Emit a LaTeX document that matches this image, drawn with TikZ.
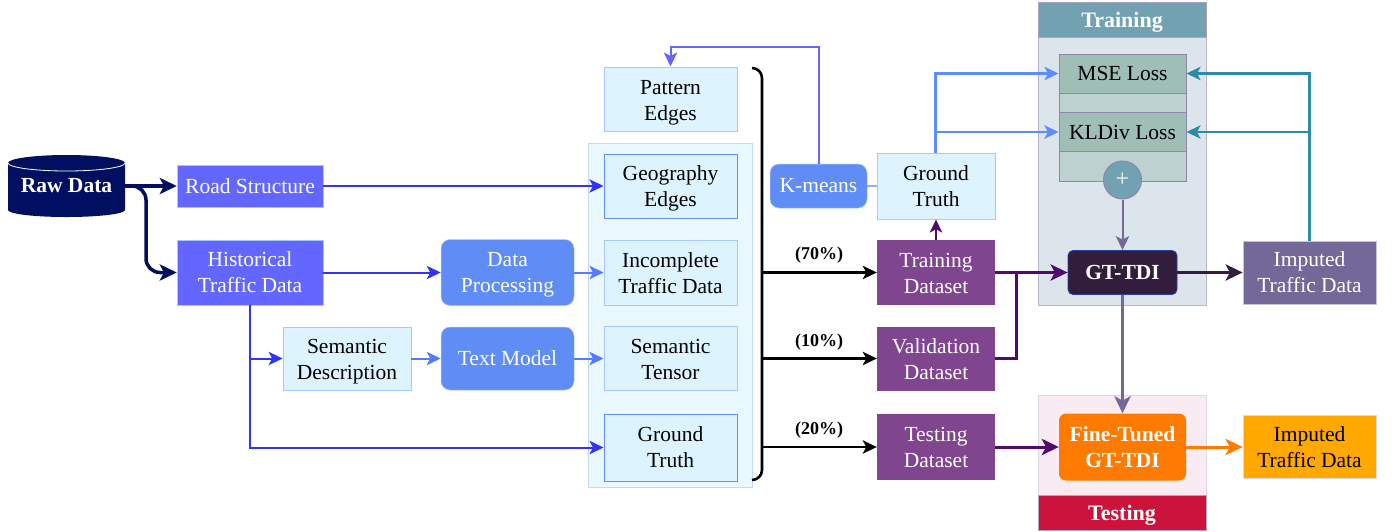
\documentclass[tikz,border=0pt]{standalone}
\usepackage{fontspec}
\setmainfont{Liberation Serif}
\usetikzlibrary{arrows.meta}
\definecolor{navy}{HTML}{000F5F}
\definecolor{roadblue}{HTML}{6366FF}
\definecolor{lineblue}{HTML}{3333F5}
\definecolor{softblue}{HTML}{5F8CF5}
\definecolor{brightsoft}{HTML}{5C8CFF}
\definecolor{paleblue}{HTML}{DDF4FF}
\definecolor{paneblue}{HTML}{EAF8FF}
\definecolor{edgeblue}{HTML}{A6C8FF}
\definecolor{plum}{HTML}{7F458F}
\definecolor{deeppurple}{HTML}{4F0A6E}
\definecolor{teal1}{HTML}{72A1B2}
\definecolor{teal2}{HTML}{2E8CA2}
\definecolor{greypane}{HTML}{DDE5EC}
\definecolor{lossback}{HTML}{BDD2D0}
\definecolor{lossfill}{HTML}{9FBFB6}
\definecolor{slate}{HTML}{736897}
\definecolor{darkplum}{HTML}{321E3C}
\definecolor{pinkpane}{HTML}{F8ECF2}
\definecolor{crimson1}{HTML}{CB133B}
\definecolor{orange1}{HTML}{FF7A00}
\definecolor{amber}{HTML}{FFA800}
\newcommand{\bodyfont}{\fontsize{21.5}{26}\selectfont}
\newcommand{\dn}[1]{\rule{0pt}{\dimexpr 14.8pt+#1pt*2\relax}}
\tikzset{
 px/.style={x=1pt,y=-1pt},
 multi/.style={inner sep=0pt,align=center,font=\bodyfont},
 road/.style={multi,fill=roadblue,draw=edgeblue,line width=.5pt,text=white},
 soft/.style={multi,fill=softblue,draw=edgeblue,line width=.5pt,text=white,rounded corners=9pt},
 pale/.style={multi,fill=paleblue,draw=edgeblue,line width=1pt,text=black},
 palestrong/.style={multi,fill=paleblue,draw=softblue,line width=1pt,text=black},
 dataset/.style={multi,fill=plum,text=white,minimum width=118pt},
 pane/.style={inner sep=0pt},
 head/.style={multi,font=\fontsize{22}{26}\selectfont\bfseries,text=white,minimum width=168pt,minimum height=35pt},
 loss/.style={multi,fill=lossfill,draw=slate!80,line width=1pt,text=black,minimum width=127pt,minimum height=39pt},
 pct/.style={inner sep=0pt,font=\fontsize{18}{20}\selectfont\bfseries},
 tip/.style={-{Stealth[length=#1,width=#1*0.95,inset=#1*0.25]}},
 blueline/.style={draw=lineblue,line width=2pt,tip=14pt},
 softline/.style={draw=brightsoft!80!lineblue,line width=2pt,tip=14pt},
 lightline/.style={draw=brightsoft,line width=2.2pt,tip=14pt},
 blackline/.style={draw=black,line width=2.2pt,tip=14pt},
 purpleline/.style={draw=deeppurple,line width=3pt,tip=17pt},
 tealline/.style={draw=teal2,line width=2.5pt,tip=14pt},
}
\begin{document}
\begin{tikzpicture}[px]
\useasboundingbox (0,0) rectangle (1392,531);
% panels
\node[pane,fill=paneblue,draw=edgeblue!70,line width=1pt,minimum width=164pt,minimum height=344pt] (leftpane) at (670,315) {};
\node[pane,fill=greypane,draw=slate!50,line width=1pt,minimum width=168pt,minimum height=303pt] (trainpane) at (1122,153.5) {};
\node[head,fill=teal1,draw=slate!60,line width=.7pt] (trainhead) at (1122,19.5) {\dn{3}Training};
\node[pane,fill=pinkpane,draw=slate!25,line width=1pt,minimum width=168pt,minimum height=135pt] (testpane) at (1122,462.5) {};
\node[head,fill=crimson1,draw=slate!60,line width=.7pt] (testhead) at (1122,512.5) {\dn{3}Testing};
\node[pane,fill=lossback,draw=slate!80,line width=1pt,minimum width=127pt,minimum height=127pt] (lossback) at (1122.5,117.5) {};
% raw data cylinder
\fill[navy] (8,163) .. controls (8,158.6) and (34.2,155) .. (66.5,155) .. controls (98.8,155) and (125,158.6) .. (125,163) -- (125,210) .. controls (125,213.9) and (98.8,217) .. (66.5,217) .. controls (34.2,217) and (8,213.9) .. (8,210) -- cycle;
\draw[white,line width=.8pt] (8,163) .. controls (8,167.4) and (34.2,171) .. (66.5,171) .. controls (98.8,171) and (125,167.4) .. (125,163);
\node[inner sep=0pt,minimum width=117pt,minimum height=40pt,text=white,font=\bodyfont\bfseries] (raw) at (66.5,186) {Raw Data};
% left column
\node[road,minimum width=146pt,minimum height=42pt] (roadn) at (250,186) {Road Structure};
\node[road,minimum width=146pt,minimum height=65pt] (hist) at (250,272.5) {Historical\\Traffic Data};
\node[soft,minimum width=133pt,minimum height=66pt] (proc) at (507.5,272.5) {\dn{1.5}Data\\Processing};
\node[pale,line width=.7pt,minimum width=128pt,minimum height=63pt] (sem) at (347,358.5) {\dn{3}Semantic\\Description};
\node[soft,minimum width=133pt,minimum height=63pt] (textm) at (507.5,358.5) {Text Model};
% middle column
\node[pale,minimum width=133pt,minimum height=64pt] (pattern) at (670.5,99) {\dn{3}Pattern\\Edges};
\node[palestrong,minimum width=133pt,minimum height=64pt] (geo) at (670.5,186) {\dn{2}Geography\\Edges};
\node[pale,minimum width=133pt,minimum height=65pt] (incomp) at (670.5,272.5) {\dn{1}Incomplete\\Traffic Data};
\node[pale,minimum width=133pt,minimum height=64pt] (tensor) at (670.5,358.5) {\dn{1}Semantic\\Tensor};
\node[palestrong,minimum width=133pt,minimum height=67pt] (gt) at (670.5,447.5) {Ground\\Truth};
% right middle
\node[soft,minimum width=97pt,minimum height=44pt] (kmeans) at (818.5,186) {K-means};
\node[pale,minimum width=118pt,minimum height=66pt] (gt2) at (936,186) {Ground\\Truth};
\node[dataset,minimum height=65pt] (train) at (936,272.5) {\dn{1}Training\\Dataset};
\node[dataset,minimum height=64pt] (valid) at (936,358.5) {\dn{1}Validation\\Dataset};
\node[dataset,minimum height=66pt] (test) at (936,447) {Testing\\Dataset};
% training block
\node[loss] (mse) at (1122.5,73.5) {MSE Loss};
\node[loss] (kl) at (1122.5,132) {KLDiv Loss};
\node[circle,fill=teal1,draw=slate!80,line width=1pt,minimum size=38pt,inner sep=0pt,text=white,font=\fontsize{24}{24}\selectfont] (plus) at (1122.5,180) {+};
\node[multi,fill=darkplum,draw=softblue!40!navy,line width=.8pt,rounded corners=5pt,text=white,font=\bodyfont\bfseries,minimum width=109pt,minimum height=44pt] (gttdi) at (1122.5,272.5) {GT-TDI};
\node[multi,fill=slate,draw=slate!40,line width=.7pt,text=white,minimum width=133pt,minimum height=63pt] (imp1) at (1309.5,272.5) {Imputed\\Traffic Data};
% testing block
\node[multi,fill=orange1,rounded corners=7pt,text=white,font=\bodyfont\bfseries,minimum width=127pt,minimum height=67pt] (fine) at (1122.5,447) {Fine-Tuned\\GT-TDI};
\node[multi,fill=amber,draw=slate!25,line width=.7pt,text=black,minimum width=133pt,minimum height=63pt] (imp2) at (1309.5,447) {Imputed\\Traffic Data};
% named junctions
\coordinate (rawbend) at (146,186);
\coordinate (bracetop) at (752,68);
\coordinate (bracebot) at (752,480);
\coordinate (brace70) at (762,272.5);
\coordinate (brace10) at (762,358.5);
\coordinate (brace20) at (762,447);
\coordinate (kup) at (818.5,47);
\coordinate (mergepur) at (1016,272.5);
\coordinate (gtup) at (935.5,132);
% raw connectors
\draw[draw=navy,line width=4pt,tip=17pt] (raw.east) -- (roadn.west);
\draw[draw=navy,line width=3.5pt,tip=17pt,rounded corners=14pt] (raw.east) -- (rawbend) |- (hist.west);
% blue connectors
\draw[blueline] (roadn.east) -- (geo.west);
\draw[blueline] (hist.east) -- (proc.west);
\draw[softline] (proc.east) -- (incomp.west);
\draw[blueline] (hist.south) |- (sem.west);
\draw[blueline] (hist.south) |- (gt.west);
\draw[softline] (sem.east) -- (textm.west);
\draw[softline] (textm.east) -- (tensor.west);
\draw[draw=roadblue,line width=2pt,tip=14pt] (kmeans.north) |- (kup) -| (pattern.north);
\draw[draw=brightsoft!70!white,line width=2pt] (gt2.west) -- (kmeans.east);
% brace
\draw[draw=black,line width=2.6pt,rounded corners=10pt] (bracetop) -- (762,68) -- (762,480) -- (bracebot);
\draw[blackline] (brace70) -- (train.west);
\draw[blackline] (brace10) -- (valid.west);
\draw[blackline] (brace20) -- (test.west);
\node[pct] (p70) at (819,255) {(70\%)};
\node[pct] (p10) at (819,342) {(10\%)};
\node[pct] (p20) at (819,430) {(20\%)};
% ground truth to losses
\draw[lightline] (gt2.north-|gtup) |- (mse.west);
\draw[lightline] (gt2.north-|gtup) |- (kl.west);
\draw[draw=deeppurple,line width=2pt,tip=13pt] (train.north) -- (gt2.south);
% datasets to models
\draw[purpleline] (train.east) -- (gttdi.west);
\draw[draw=deeppurple,line width=3pt] (valid.east) -| (mergepur);
\draw[purpleline] (test.east) -- (fine.west);
% training internal
\draw[draw=slate,line width=2pt,tip=14pt] (plus.south) -- (gttdi.north);
\draw[draw=darkplum,line width=3.5pt,tip=17pt] (gttdi.east) -- (imp1.west);
\draw[draw=slate,line width=3.5pt,tip=17pt] (gttdi.south) -- (fine.north);
\draw[tealline] (imp1.north) |- (kl.east);
\draw[tealline] (imp1.north) |- (mse.east);
\draw[draw=orange1,line width=3pt,tip=17pt] (fine.east) -- (imp2.west);
\end{tikzpicture}
\end{document}
